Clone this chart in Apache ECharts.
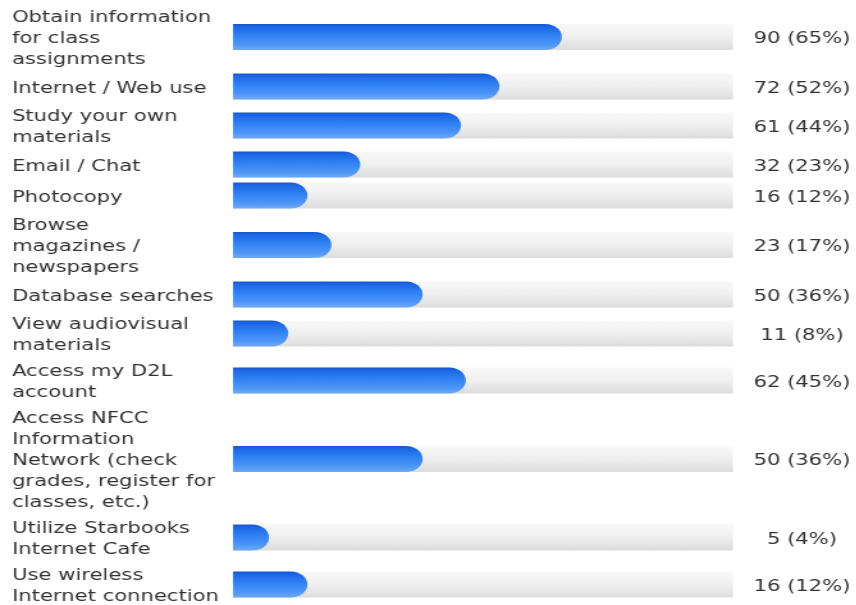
<!DOCTYPE html>
<html>
<head>
<meta charset="utf-8">
<script src="https://cdn.jsdelivr.net/npm/echarts@6/dist/echarts.min.js"></script>
<style>
html, body { margin: 0; padding: 0; background: #ffffff; overflow: hidden; }
#wrap { width: 856px; height: 605px; overflow: hidden; }
#chart { width: 668.75px; height: 605px; transform: scaleX(1.28); transform-origin: 0 0; }
</style>
</head>
<body>
<div id="wrap"><div id="chart"></div></div>
<script>
// ---- data ----
const categories = [
  'Obtain information\nfor class\nassignments',
  'Internet / Web use',
  'Study your own\nmaterials',
  'Email / Chat',
  'Photocopy',
  'Browse\nmagazines /\nnewspapers',
  'Database searches',
  'View audiovisual\nmaterials',
  'Access my D2L\naccount',
  'Access NFCC\nInformation\nNetwork (check\ngrades, register for\nclasses, etc.)',
  'Utilize Starbooks\nInternet Cafe',
  'Use wireless\nInternet connection'
];
const counts   = [90, 72, 61, 32, 16, 23, 50, 11, 62, 50, 5, 16];
const percents = [65, 52, 44, 23, 12, 17, 36, 8, 45, 36, 4, 12];
const valueLabels = counts.map((c, i) => c + ' (' + percents[i] + '%)');

// ---- layout / style ----
const SX = 1.28;                 // horizontal stretch of the reference
const px = v => v / SX;
const TRACK_LEFT = 233, TRACK_RIGHT = 733, LABEL_LEFT = 12, VALUE_CENTER = 802;
const LINE_H = 21, ROW_PAD = 5, ROW_MIN = 31, TOP_OFFSET = 5, BAR_H = 26, BAR_SHIFT = -2;
const X_MIN = -3.5, X_MAX = 100.67;
const FONT = { fontFamily: 'DejaVu Sans', fontSize: 16.5, lineHeight: LINE_H, color: '#333333' };

const trackFill = { type: 'linear', x: 0, y: 0, x2: 0, y2: 1, colorStops: [
  { offset: 0, color: '#f8f8f8' }, { offset: 0.5, color: '#efefef' }, { offset: 1, color: '#dcdcdc' } ] };
const barFill = { type: 'linear', x: 0, y: 0, x2: 0, y2: 1, colorStops: [
  { offset: 0, color: '#1857cf' }, { offset: 0.12, color: '#1d67e6' }, { offset: 0.4, color: '#2d7ff4' },
  { offset: 0.75, color: '#4a94f7' }, { offset: 1, color: '#6ea9f6' } ] };

const grids = [], xAxes = [], yAxes = [], seriesList = [];
let rowTop = TOP_OFFSET;
categories.forEach((cat, i) => {
  const lines = cat.split('\n').length;
  const h = Math.max(lines * LINE_H + ROW_PAD, ROW_MIN);
  grids.push({ left: px(TRACK_LEFT), width: px(TRACK_RIGHT - TRACK_LEFT), top: rowTop, height: h, outerBoundsMode: 'none' });
  rowTop += h;
  xAxes.push({ gridIndex: i, type: 'value', min: X_MIN, max: X_MAX, show: false });
  yAxes.push({
    gridIndex: i, type: 'category', data: [cat],
    axisLine: { show: false }, axisTick: { show: false }, splitLine: { show: false },
    axisLabel: Object.assign({ align: 'left', margin: px(TRACK_LEFT - LABEL_LEFT) }, FONT)
  });
  yAxes.push({
    gridIndex: i, type: 'category', position: 'right', data: [valueLabels[i]],
    axisLine: { show: false }, axisTick: { show: false }, splitLine: { show: false },
    axisLabel: Object.assign({ align: 'center', margin: px(VALUE_CENTER - TRACK_RIGHT) }, FONT)
  });
  seriesList.push({
    type: 'custom', xAxisIndex: i, yAxisIndex: 2 * i,
    data: [[percents[i], 0]], encode: { x: 0, y: 1 },
    renderItem: function (params, api) {
      const s = api.coord([X_MIN, 0]);
      const e = api.coord([api.value(0), 0]);
      const t = api.coord([X_MAX, 0]);
      const y = s[1] - BAR_H / 2 + BAR_SHIFT;
      const r = BAR_H / 2;
      return { type: 'group', children: [
        { type: 'rect', shape: { x: s[0], y: y, width: t[0] - s[0], height: BAR_H }, style: { fill: trackFill } },
        { type: 'rect', shape: { x: s[0], y: y, width: e[0] - s[0], height: BAR_H, r: [0, r, r, 0] }, style: { fill: barFill } }
      ] };
    }
  });
});

const chart = echarts.init(document.getElementById('chart'));
chart.setOption({ animation: false, backgroundColor: '#ffffff', grid: grids, xAxis: xAxes, yAxis: yAxes, series: seriesList });
</script>
</body>
</html>
